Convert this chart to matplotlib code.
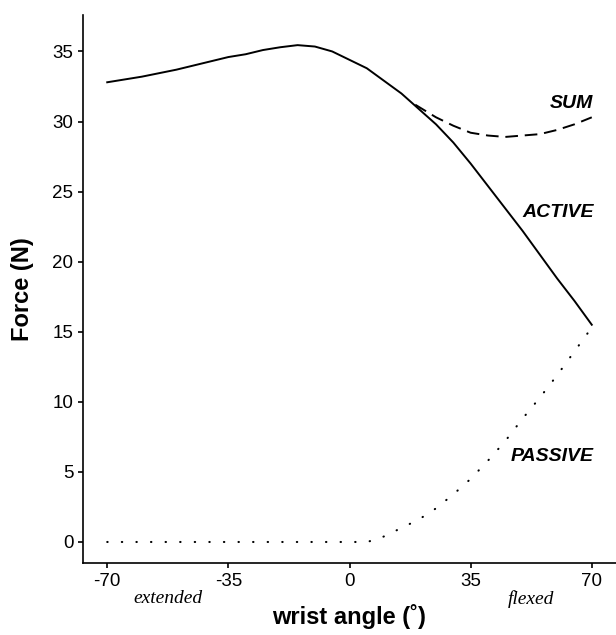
import matplotlib
matplotlib.use("Agg")
import matplotlib.pyplot as plt

# wrist angle (deg) vs force (N)
active_angle = [-70, -60, -50, -45, -40, -35, -30, -25, -20, -15, -10, -5, 0,
                5, 10, 15, 20, 25, 30, 35, 40, 45, 50, 55, 60, 65, 70]
active_force = [32.8, 33.2, 33.7, 34.0, 34.3, 34.6, 34.8, 35.1, 35.3, 35.45,
                35.35, 35.0, 34.4, 33.8, 32.9, 32.0, 30.9, 29.8, 28.5, 27.0,
                25.4, 23.8, 22.2, 20.5, 18.8, 17.2, 15.5]

sum_angle = [19, 25, 30, 35, 40, 45, 50, 55, 60, 65, 70]
sum_force = [31.2, 30.3, 29.7, 29.2, 29.0, 28.9, 29.0, 29.1, 29.4, 29.8, 30.3]

passive_angle = [-70, 0, 5, 8, 10, 15, 20, 25, 30, 35, 40, 45, 50, 55, 60, 65, 70]
passive_force = [0.0, 0.0, 0.0, 0.2, 0.4, 1.0, 1.6, 2.4, 3.4, 4.5, 5.8, 7.2, 8.8,
                 10.3, 11.9, 13.6, 15.3]

x_ticks = [-70, -35, 0, 35, 70]
y_ticks = [0, 5, 10, 15, 20, 25, 30, 35]

labels = ["SUM", "ACTIVE", "PASSIVE"]
label_pos = [(70.5, 31.3), (70.5, 23.5), (70.5, 6.1)]

plt.rcParams["font.family"] = ["Liberation Sans", "DejaVu Sans"]
plt.rcParams["axes.unicode_minus"] = False

fig = plt.figure(figsize=(6.16, 6.35), dpi=100)
ax = fig.add_axes([83 / 616, 1 - 563 / 635, 533 / 616, 548 / 635])

ax.plot(active_angle, active_force, color="black", lw=1.4)
ax.plot(sum_angle, sum_force, color="black", lw=1.4, linestyle=(0, (6.5, 3.5)))
ax.plot(passive_angle, passive_force, color="black", lw=1.5,
        linestyle=(0, (0.2, 6.8)), dash_capstyle="round")

for txt, (x, y) in zip(labels, label_pos):
    ax.text(x, y, txt, ha="right", va="center", fontsize=14,
            fontweight="bold", fontstyle="italic")

ax.set_xlim(-77, 77)
ax.set_ylim(-1.5, 37.6)
ax.set_xticks(x_ticks)
ax.set_yticks(y_ticks)
ax.tick_params(direction="out", length=3.6, width=1.2, labelsize=13.5)
ax.tick_params(axis="x", pad=3.5)
ax.tick_params(axis="y", pad=3.3)

for side in ("top", "right"):
    ax.spines[side].set_visible(False)
for side in ("left", "bottom"):
    ax.spines[side].set_linewidth(1.2)

ax.set_xlabel("wrist angle (˚)", fontsize=17, fontweight="bold")
ax.xaxis.set_label_coords(0.5, -0.074)
ax.set_ylabel("Force (N)", fontsize=17, fontweight="bold", va="center")
ax.yaxis.set_label_coords(-0.114, 0.5)

ax.text(-52.5, -0.064, "extended", transform=ax.get_xaxis_transform(),
        ha="center", va="center", fontsize=14, fontstyle="italic",
        family="Liberation Serif")
ax.text(52.5, -0.066, "flexed", transform=ax.get_xaxis_transform(),
        ha="center", va="center", fontsize=14, fontstyle="italic",
        family="Liberation Serif")

fig.savefig("out.png", dpi=100)
